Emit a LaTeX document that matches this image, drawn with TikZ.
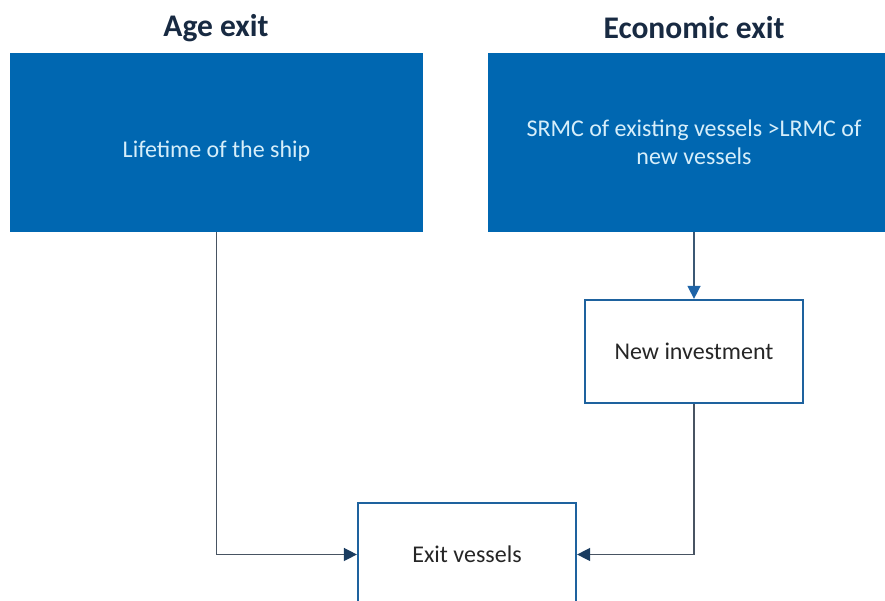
\documentclass[tikz,border=0pt]{standalone}
\usepackage{fontspec}
\setmainfont{Carlito}
\usetikzlibrary{arrows.meta}

\definecolor{boxblue}{RGB}{0,103,177}
\definecolor{boxtext}{RGB}{214,238,250}
\definecolor{titlenavy}{RGB}{24,42,66}
\definecolor{edgeblue}{RGB}{30,98,158}
\definecolor{linegray}{RGB}{72,84,98}
\definecolor{tipnavy}{RGB}{26,60,96}
\definecolor{tipblue}{RGB}{30,100,168}

\tikzset{
  exitbox/.style={fill=boxblue, text=boxtext, inner sep=0pt, align=center,
    font=\fontsize{24}{28}\selectfont},
  stagebox/.style={draw=edgeblue, line width=2.2pt, fill=white, text=black!85,
    inner sep=0pt, minimum width=218pt, minimum height=103pt,
    font=\fontsize{24}{28}\selectfont},
  heading/.style={text=titlenavy, font=\bfseries\fontsize{31.5}{36}\selectfont},
  conn/.style={draw=linegray, line width=1.4pt,
    -{Triangle[length=13pt,width=13pt,color=tipnavy,fill=tipnavy]}}
}

\begin{document}
\begin{tikzpicture}[x=1pt,y=1pt]
\useasboundingbox (0,0) rectangle (885,601);
\clip (0,0) rectangle (885,601);
% headings
\node [heading] (agehead) at (216,573) {Age exit};
\node [heading] (econhead) at (694,573) {Economic exit};
% blue boxes
\node [exitbox, minimum width=413pt, minimum height=179pt, text height=34pt] (lifetime) at (216.5,458.5) {Lifetime of the ship};
\node [exitbox, minimum width=412pt, minimum height=179pt] (srmc) at (694,458.5) {SRMC of existing vessels >LRMC of\\ new vessels};
% white boxes
\node [stagebox] (newinv) at (694,249.5) {New investment};
\node [stagebox] (exitv) at (467,46.5) {Exit vessels};
% connectors
\draw [conn, draw=linegray!70!edgeblue, -{Triangle[length=13pt,width=13pt,color=tipblue,fill=tipblue]}] (srmc.south) -- (newinv.north);
\draw [conn] (lifetime.south) |- (exitv.west);
\draw [conn] (newinv.south) |- (exitv.east);
\end{tikzpicture}
\end{document}
